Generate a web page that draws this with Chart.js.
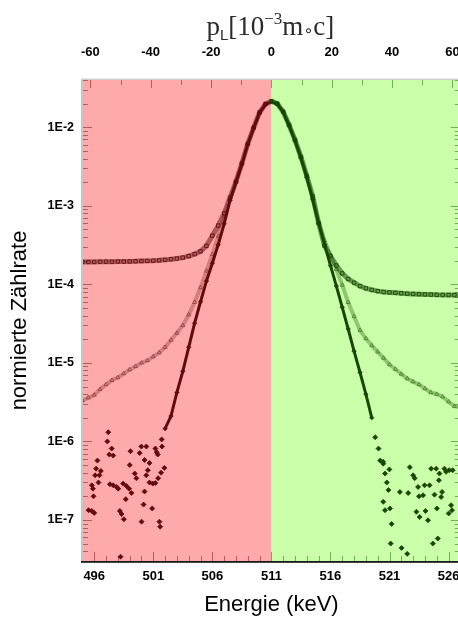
<!DOCTYPE html>
<html>
<head>
<meta charset="utf-8">
<script src="https://cdn.jsdelivr.net/npm/chart.js@4/dist/chart.umd.min.js"></script>
<style>
  html, body { margin: 0; padding: 0; overflow: hidden; background: #fff; }
  #wrap { position: relative; width: 480px; height: 618px; }
</style>
</head>
<body>
<div id="wrap"><canvas id="chart" width="480" height="618"></canvas></div>
<script>
// Energy grid of the two broad spectra (keV)
const energy = [
  495, 495.5, 496, 496.5, 497, 497.5, 498, 498.5, 499, 499.5,
  500, 500.5, 501, 501.5, 502, 502.5, 503, 503.5, 504, 504.5,
  505, 505.5, 506, 506.5, 507, 507.5, 508, 508.5, 509, 509.5,
  510, 510.5, 511, 511.5, 512, 512.5, 513, 513.5, 514, 514.5,
  515, 515.5, 516, 516.5, 517, 517.5, 518, 518.5, 519, 519.5,
  520, 520.5, 521, 521.5, 522, 522.5, 523, 523.5, 524, 524.5,
  525, 525.5, 526, 526.5, 527
];

// Single spectrum (open squares, high flat background)
const rateSingle = [
  1.93e-4, 1.93e-4, 1.93e-4, 1.94e-4, 1.94e-4, 1.94e-4, 1.95e-4, 1.95e-4, 1.96e-4, 1.97e-4,
  1.98e-4, 1.99e-4, 2.00e-4, 2.02e-4, 2.05e-4, 2.09e-4, 2.13e-4, 2.19e-4, 2.29e-4, 2.43e-4,
  2.63e-4, 3.09e-4, 4.17e-4, 5.6e-4, 8.0e-4, 1.27e-3, 2.04e-3, 3.47e-3, 6.17e-3, 9.9e-3,
  1.55e-2, 1.98e-2, 2.15e-2, 2.0e-2, 1.58e-2, 1.07e-2, 6.9e-3, 4.2e-3, 2.4e-3, 1.32e-3,
  6.0e-4, 3.1e-4, 2.29e-4, 1.74e-4, 1.38e-4, 1.17e-4, 1.05e-4, 9.5e-5, 8.9e-5, 8.5e-5,
  8.2e-5, 8.0e-5, 7.9e-5, 7.8e-5, 7.7e-5, 7.6e-5, 7.55e-5, 7.5e-5, 7.45e-5, 7.4e-5,
  7.35e-5, 7.33e-5, 7.31e-5, 7.3e-5, 7.28e-5
];

// Coincidence spectrum (open triangles)
const rateCoinc = [
  3.3e-6, 3.6e-6, 3.9e-6, 4.6e-6, 5.3e-6, 6.0e-6, 6.5e-6, 7.3e-6, 8.2e-6, 9.0e-6,
  1.0e-5, 1.07e-5, 1.2e-5, 1.35e-5, 1.58e-5, 1.95e-5, 2.4e-5, 3.0e-5, 4.1e-5, 5.9e-5,
  9.1e-5, 1.48e-4, 2.4e-4, 4.1e-4, 7.4e-4, 1.25e-3, 2.02e-3, 3.45e-3, 6.15e-3, 9.9e-3,
  1.54e-2, 1.97e-2, 2.14e-2, 1.99e-2, 1.57e-2, 1.06e-2, 6.85e-3, 4.15e-3, 2.35e-3, 1.26e-3,
  6.2e-4, 3.6e-4, 2.34e-4, 1.55e-4, 9.8e-5, 5.9e-5, 3.9e-5, 2.6e-5, 2.04e-5, 1.66e-5,
  1.38e-5, 1.15e-5, 9.5e-6, 8.3e-6, 7.2e-6, 6.3e-6, 5.75e-6, 5.3e-6, 4.7e-6, 4.2e-6,
  4.0e-6, 3.7e-6, 3.2e-6, 2.8e-6, 2.75e-6
];

// Energy-selected coincidence spectrum (filled diamonds): continuous part
const energyCore = [
  502, 502.5, 503, 503.5, 504, 504.5, 505, 505.5, 506, 506.5,
  507, 507.5, 508, 508.5, 509, 509.5, 510, 510.5, 511, 511.5,
  512, 512.5, 513, 513.5, 514, 514.5, 515, 515.5, 516, 516.5,
  517, 517.5, 518, 518.5, 519, 519.5
];
const rateSelected = [
  1.45e-6, 2.1e-6, 4.2e-6, 7.8e-6, 1.58e-5, 3.2e-5, 6.0e-5, 1.10e-4, 1.86e-4, 3.2e-4,
  5.9e-4, 1.17e-3, 2.0e-3, 3.4e-3, 6.1e-3, 9.8e-3, 1.53e-2, 1.96e-2, 2.13e-2, 1.98e-2,
  1.56e-2, 1.05e-2, 6.8e-3, 4.1e-3, 2.3e-3, 1.20e-3, 6.0e-4, 3.2e-4, 1.74e-4, 9.5e-5,
  5.1e-5, 2.7e-5, 1.41e-5, 7.6e-6, 4.0e-6, 2.0e-6
];

// Energy-selected spectrum: sparse counts in the far wings
const energyWings = [
  501.71, 501.74, 501.94, 501.66, 501.41, 501.18, 501.29, 501.38, 501.18, 500.96,
  500.68, 501.52, 501.58, 500.91, 499.99, 500.41, 499.85, 500.26, 500.68, 500.54,
  500.41, 500.26, 500.18, 500.01, 499.07, 499.01, 499.43, 499.57, 498.45, 498.73,
  498.95, 499.15, 498.67, 498.17, 498.31, 498.51, 497.33, 497.61, 497.90, 498.03,
  497.19, 497.11, 497.48, 497.28, 497.61, 496.27, 496.16, 496.56, 496.08, 496.44,
  496.36, 495.80, 495.89, 495.94, 495.52, 495.80, 496.00, 498.23,
  519.79, 520.07, 520.21, 520.47, 520.46, 520.62, 520.77, 520.91, 520.99, 520.47,
  520.62, 521.04, 521.18, 521.10, 521.88, 522.02, 522.58, 522.50, 522.72, 523.00,
  523.13, 523.42, 523.28, 523.50, 523.55, 523.84, 523.97, 524.05, 524.26, 524.39,
  524.53, 524.67, 524.95, 525.01, 525.09, 524.81, 525.18, 525.23, 525.37, 525.45,
  525.65, 525.79, 526.01, 526.06, 526.21, 526.35, 526.29
];
const rateWings = [
  1.06e-6, 8.6e-7, 4.6e-7, 4.0e-7, 3.4e-7, 8.1e-7, 7.3e-7, 6.8e-7, 2.95e-7, 2.9e-7,
  3.0e-7, 9.5e-8, 8.2e-8, 1.4e-7, 8.6e-7, 8.6e-7, 7.1e-7, 5.8e-7, 5.3e-7, 4.3e-7,
  3.7e-7, 2.3e-7, 1.57e-7, 9.5e-8, 7.5e-7, 5.0e-7, 3.9e-7, 3.4e-7, 2.9e-7, 2.7e-7,
  2.5e-7, 2.2e-7, 1.84e-7, 1.3e-7, 1.19e-7, 1.02e-7, 2.85e-7, 2.76e-7, 2.63e-7, 2.5e-7,
  1.31e-6, 1.0e-6, 8.1e-7, 6.8e-7, 6.6e-7, 5.7e-7, 4.5e-7, 4.2e-7, 3.7e-7, 3.7e-7,
  3.0e-7, 2.76e-7, 2.5e-7, 2.0e-7, 1.33e-7, 1.3e-7, 1.23e-7, 3.4e-8,
  1.13e-6, 8.1e-7, 5.7e-7, 5.2e-7, 5.5e-7, 3.9e-7, 3.0e-7, 2.4e-7, 4.4e-7, 1.7e-7,
  1.33e-7, 1.4e-7, 8.9e-8, 5.0e-8, 2.27e-7, 4.4e-8, 2.2e-7, 3.7e-8, 4.7e-7, 3.7e-7,
  3.4e-7, 2.63e-7, 1.27e-7, 2.0e-7, 1.09e-7, 2.06e-7, 2.76e-7, 1.3e-7, 9.9e-8, 2.76e-7,
  4.5e-7, 5.0e-8, 4.5e-7, 1.4e-7, 5.8e-8, 2.1e-7, 3.2e-7, 3.9e-7, 1.96e-7, 2.27e-7,
  4.5e-7, 4.1e-7, 1.21e-7, 4.3e-7, 1.54e-7, 4.3e-7, 1.33e-7
];

// Axis ticks
const energyTicks = [496, 501, 506, 511, 516, 521, 526];
const momentumTicks = [-60, -40, -20, 0, 20, 40, 60];
const rateTicks = [1e-7, 1e-6, 1e-5, 1e-4, 1e-3, 1e-2];

// Axis ranges
const E0 = 511;               // annihilation line, keV
const E_MIN = 495.05, E_MAX = 526.95;
const P_PER_KEV = 2000 / 511; // p_L in 10^-3 m0c per keV of Doppler shift
const RATE_MIN = 3e-8, RATE_MAX = 4e-2;

const FONT = '"Liberation Sans", Arial, sans-serif';

const pts = (xs, ys) => xs.map((x, i) => ({ x, y: ys[i] }));
const bySide = (left, right) => ctx => (ctx.raw && ctx.raw.x < E0) ? left : right;
const segSide = (left, right) => ctx => (ctx.p0.parsed.x < E0) ? left : right;

// Split background, axis lines and inner tick marks
const frame = {
  id: 'frame',
  beforeDatasetsDraw(chart) {
    const { ctx, chartArea: a, scales } = chart;
    const xs = scales.x, ys = scales.y, ps = scales.x2;
    const split = xs.getPixelForValue(E0);
    ctx.save();
    ctx.fillStyle = 'rgb(255,170,170)';
    ctx.fillRect(a.left, a.top, split - a.left, a.bottom - a.top);
    ctx.fillStyle = 'rgb(204,255,170)';
    ctx.fillRect(split, a.top, a.right - split, a.bottom - a.top);

    const tickCol = px => px < split ? 'rgba(140,20,20,0.55)' : 'rgba(40,110,20,0.55)';
    ctx.lineWidth = 1;
    // rate axis: decades and sub-decades
    for (let d = -8; d <= -1; d++) {
      for (let m = 1; m <= 9; m++) {
        const v = m * Math.pow(10, d);
        if (v < RATE_MIN || v > RATE_MAX) continue;
        const py = Math.round(ys.getPixelForValue(v)) + 0.5;
        const len = m === 1 ? 9 : 5;
        ctx.strokeStyle = tickCol(a.left);
        ctx.beginPath(); ctx.moveTo(a.left, py); ctx.lineTo(a.left + len, py); ctx.stroke();
        ctx.strokeStyle = tickCol(a.right);
        ctx.beginPath(); ctx.moveTo(a.right, py); ctx.lineTo(a.right - len, py); ctx.stroke();
      }
    }
    // energy axis
    for (let e = 496; e <= 526; e++) {
      const px = Math.round(xs.getPixelForValue(e)) + 0.5;
      const len = (e - 496) % 5 === 0 ? 9 : 5;
      ctx.strokeStyle = tickCol(px);
      ctx.beginPath(); ctx.moveTo(px, a.bottom); ctx.lineTo(px, a.bottom - len); ctx.stroke();
    }
    // momentum axis
    for (let p = -60; p <= 60; p += 10) {
      const px = Math.round(ps.getPixelForValue(p)) + 0.5;
      const len = p % 20 === 0 ? 8 : 5;
      ctx.strokeStyle = tickCol(px);
      ctx.beginPath(); ctx.moveTo(px, a.top); ctx.lineTo(px, a.top + len); ctx.stroke();
    }
    ctx.restore();
  },
  afterDraw(chart) {
    const { ctx, chartArea: a } = chart;
    ctx.save();
    ctx.fillStyle = '#c6c6c6';
    ctx.fillRect(a.left - 2, a.top - 1, 2, a.bottom - a.top + 1);
    ctx.fillStyle = '#d0d0d0';
    ctx.fillRect(a.left - 2, a.top - 1.5, a.right - a.left + 2, 1.5);
    ctx.fillStyle = '#1a1a1a';
    ctx.fillRect(a.left - 2, a.bottom, a.right - a.left + 2, 1.8);

    // momentum axis title: p_L[10^-3 m∘c]
    const base = 35;
    const parts = [
      { t: 'p', f: '27px "Liberation Serif", serif', dy: 0 },
      { t: 'L', f: '15px "Liberation Sans", sans-serif', dy: 5 },
      { t: '[10', f: '27px "Liberation Serif", serif', dy: 0 },
      { t: '\u22123', f: '17px "Liberation Serif", serif', dy: -11 },
      { t: 'm', f: '27px "Liberation Serif", serif', dy: 0 },
      { t: '\u2218', f: '16px "DejaVu Sans", sans-serif', dy: 1 },
      { t: 'c]', f: '27px "Liberation Serif", serif', dy: 0 }
    ];
    let total = 0;
    parts.forEach(p => { ctx.font = p.f; p.w = ctx.measureText(p.t).width; total += p.w; });
    let x = (a.left + a.right) / 2 - total / 2 - 1;
    ctx.fillStyle = '#2a2a2a';
    ctx.textBaseline = 'alphabetic';
    ctx.textAlign = 'left';
    parts.forEach(p => { ctx.font = p.f; ctx.fillText(p.t, x, base + p.dy); x += p.w; });
    ctx.restore();
  }
};

const redA = 'rgba(95,15,15,0.9)', greenA = 'rgba(25,70,5,0.9)';
const redB = 'rgba(125,40,40,0.6)', greenB = 'rgba(40,100,15,0.6)';
const redC = 'rgb(100,10,10)', greenC = 'rgb(25,70,5)';

new Chart(document.getElementById('chart'), {
  type: 'scatter',
  data: {
    datasets: [
      {
        label: 'selektiert',
        data: pts(energyCore, rateSelected),
        showLine: true,
        borderWidth: 3,
        segment: { borderColor: segSide(redC, greenC) },
        pointStyle: 'rectRot',
        pointRadius: 2.3,
        pointBorderWidth: 0.5,
        pointBackgroundColor: bySide(redC, greenC),
        pointBorderColor: bySide(redC, greenC),
        order: 0
      },
      {
        label: 'selektiert (Flanken)',
        data: pts(energyWings, rateWings),
        showLine: false,
        pointStyle: 'rectRot',
        pointRadius: 2.5,
        pointBorderWidth: 0.8,
        pointBackgroundColor: bySide(redC, greenC),
        pointBorderColor: bySide(redC, greenC),
        order: 0
      },
      {
        label: 'Einzel',
        data: pts(energy, rateSingle),
        showLine: true,
        borderWidth: 5,
        segment: { borderColor: segSide('rgba(125,35,35,0.6)', 'rgba(35,90,15,0.6)') },
        pointStyle: 'rect',
        pointRadius: 2.4,
        pointBorderWidth: 1,
        pointBackgroundColor: 'rgba(0,0,0,0)',
        pointBorderColor: bySide(redA, greenA),
        order: 1
      },
      {
        label: 'Koinzidenz',
        data: pts(energy, rateCoinc),
        showLine: true,
        borderWidth: 4,
        segment: { borderColor: segSide('rgba(150,60,60,0.4)', 'rgba(60,120,30,0.42)') },
        pointStyle: 'triangle',
        pointRadius: 2.3,
        pointBorderWidth: 1,
        pointBackgroundColor: 'rgba(0,0,0,0)',
        pointBorderColor: bySide(redB, greenB),
        order: 2
      }
    ]
  },
  options: {
    responsive: false,
    animation: false,
    events: [],
    layout: { padding: { left: 0, right: 16, top: 0, bottom: 0 } },
    plugins: { legend: { display: false }, tooltip: { enabled: false } },
    scales: {
      x: {
        type: 'linear', position: 'bottom', min: E_MIN, max: E_MAX,
        grid: { display: false, drawTicks: false }, border: { display: false },
        afterBuildTicks: s => { s.ticks = energyTicks.map(v => ({ value: v })); },
        afterFit: s => { s.height = 57; },
        ticks: { color: '#000', padding: 8, maxRotation: 0, autoSkip: false,
                 font: { family: FONT, size: 13, weight: 'bold' }, callback: v => String(v) },
        title: { display: true, text: 'Energie (keV)', color: '#000',
                 font: { family: FONT, size: 22 }, padding: { top: 0, bottom: 0 } }
      },
      x2: {
        type: 'linear', position: 'top',
        min: (E_MIN - E0) * P_PER_KEV, max: (E_MAX - E0) * P_PER_KEV,
        grid: { display: false, drawTicks: false }, border: { display: false },
        afterBuildTicks: s => { s.ticks = momentumTicks.map(v => ({ value: v })); },
        afterFit: s => { s.height = 80; },
        ticks: { color: '#000', padding: 20, maxRotation: 0, autoSkip: false,
                 font: { family: FONT, size: 13, weight: 'bold' }, callback: v => String(v) }
      },
      y: {
        type: 'logarithmic', position: 'left', min: RATE_MIN, max: RATE_MAX,
        grid: { display: false, drawTicks: false }, border: { display: false },
        afterBuildTicks: s => { s.ticks = rateTicks.map(v => ({ value: v })); },
        afterFit: s => { s.width = 83; },
        ticks: { color: '#000', padding: 9, autoSkip: false,
                 font: { family: FONT, size: 12.5, weight: 'bold' },
                 callback: v => '1E' + Math.round(Math.log10(v)) },
        title: { display: true, text: 'normierte Zählrate', color: '#000',
                 font: { family: FONT, size: 22 }, padding: { top: 7, bottom: 0 } }
      }
    }
  },
  plugins: [frame]
});
</script>
</body>
</html>
